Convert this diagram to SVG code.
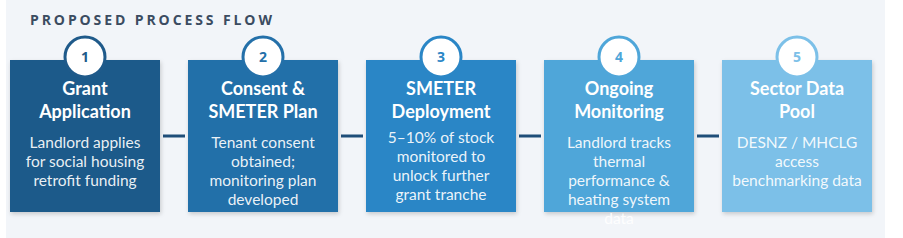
<svg xmlns="http://www.w3.org/2000/svg" width="903" height="238" viewBox="0 0 903 238">
<defs>
<filter id="sh" x="-10%" y="-10%" width="125%" height="125%">
<feDropShadow dx="1" dy="2" stdDeviation="2" flood-color="#000" flood-opacity="0.18"/>
</filter>
<style>
.title{font-family:"Open Sans","DejaVu Sans",sans-serif;font-weight:700;font-size:14px;letter-spacing:2.9px;fill:#3b4c61}
.hd{font-family:Lato,"Liberation Sans",sans-serif;font-weight:700;font-size:18px;fill:#ffffff;text-anchor:middle}
.bd{font-family:Lato,"Liberation Sans",sans-serif;font-size:15.5px;fill:#ffffff;fill-opacity:0.92;text-anchor:middle}
.num{font-family:"Open Sans","Liberation Sans",sans-serif;font-weight:700;font-size:14px;text-anchor:middle}
.circ{fill:#ffffff;stroke-width:3}
.conn{stroke:#1f4e79;stroke-width:3;fill:none}
</style>
</defs>
<rect x="0" y="0" width="903" height="238" fill="#ffffff"/>
<rect x="6" y="0" width="879" height="238" fill="#f2f5f9"/>
<text class="title" x="30" y="25">PROPOSED PROCESS FLOW</text>
<g id="connectors">
<line class="conn" x1="163" y1="136" x2="185" y2="136"/>
<line class="conn" x1="341" y1="136" x2="363" y2="136"/>
<line class="conn" x1="519" y1="136" x2="541" y2="136"/>
<line class="conn" x1="697" y1="136" x2="719" y2="136"/>
</g>
<g id="step1">
<rect x="10" y="60" width="150" height="152" fill="#1f5a8a" filter="url(#sh)"/>
<circle class="circ" cx="85" cy="57" r="20" stroke="#1f5a8a"/>
<text class="num" x="85" y="62" fill="#1f5a8a">1</text>
<text class="hd" x="85" y="95">Grant</text>
<text class="hd" x="85" y="118">Application</text>
<text class="bd" x="85" y="148">Landlord applies</text>
<text class="bd" x="85" y="167">for social housing</text>
<text class="bd" x="85" y="186">retrofit funding</text>
</g>
<g id="step2">
<rect x="188" y="60" width="150" height="152" fill="#2470a9" filter="url(#sh)"/>
<circle class="circ" cx="263" cy="57" r="20" stroke="#2470a9"/>
<text class="num" x="263" y="62" fill="#2470a9">2</text>
<text class="hd" x="263" y="95">Consent &amp;</text>
<text class="hd" x="263" y="118">SMETER Plan</text>
<text class="bd" x="263" y="148">Tenant consent</text>
<text class="bd" x="263" y="167">obtained;</text>
<text class="bd" x="263" y="186">monitoring plan</text>
<text class="bd" x="263" y="205">developed</text>
</g>
<g id="step3">
<rect x="366" y="60" width="150" height="152" fill="#2a86c6" filter="url(#sh)"/>
<circle class="circ" cx="441" cy="57" r="20" stroke="#2a86c6"/>
<text class="num" x="441" y="62" fill="#2a86c6">3</text>
<text class="hd" x="441" y="95">SMETER</text>
<text class="hd" x="441" y="118">Deployment</text>
<text class="bd" x="441" y="143">5–10% of stock</text>
<text class="bd" x="441" y="162">monitored to</text>
<text class="bd" x="441" y="181">unlock further</text>
<text class="bd" x="441" y="200">grant tranche</text>
</g>
<g id="step4">
<rect x="544" y="60" width="150" height="152" fill="#4fa6d9" filter="url(#sh)"/>
<circle class="circ" cx="619" cy="57" r="20" stroke="#4fa6d9"/>
<text class="num" x="619" y="62" fill="#4fa6d9">4</text>
<text class="hd" x="619" y="95">Ongoing</text>
<text class="hd" x="619" y="118">Monitoring</text>
<text class="bd" x="619" y="148">Landlord tracks</text>
<text class="bd" x="619" y="167">thermal</text>
<text class="bd" x="619" y="186">performance &amp;</text>
<text class="bd" x="619" y="205">heating system</text>
<text class="bd" x="619" y="224">data</text>
</g>
<g id="step5">
<rect x="722" y="60" width="150" height="152" fill="#7cc0e8" filter="url(#sh)"/>
<circle class="circ" cx="797" cy="57" r="20" stroke="#7cc0e8"/>
<text class="num" x="797" y="62" fill="#7cc0e8">5</text>
<text class="hd" x="797" y="95">Sector Data</text>
<text class="hd" x="797" y="118">Pool</text>
<text class="bd" x="797" y="148">DESNZ / MHCLG</text>
<text class="bd" x="797" y="167">access</text>
<text class="bd" x="797" y="186">benchmarking data</text>
</g>
</svg>
